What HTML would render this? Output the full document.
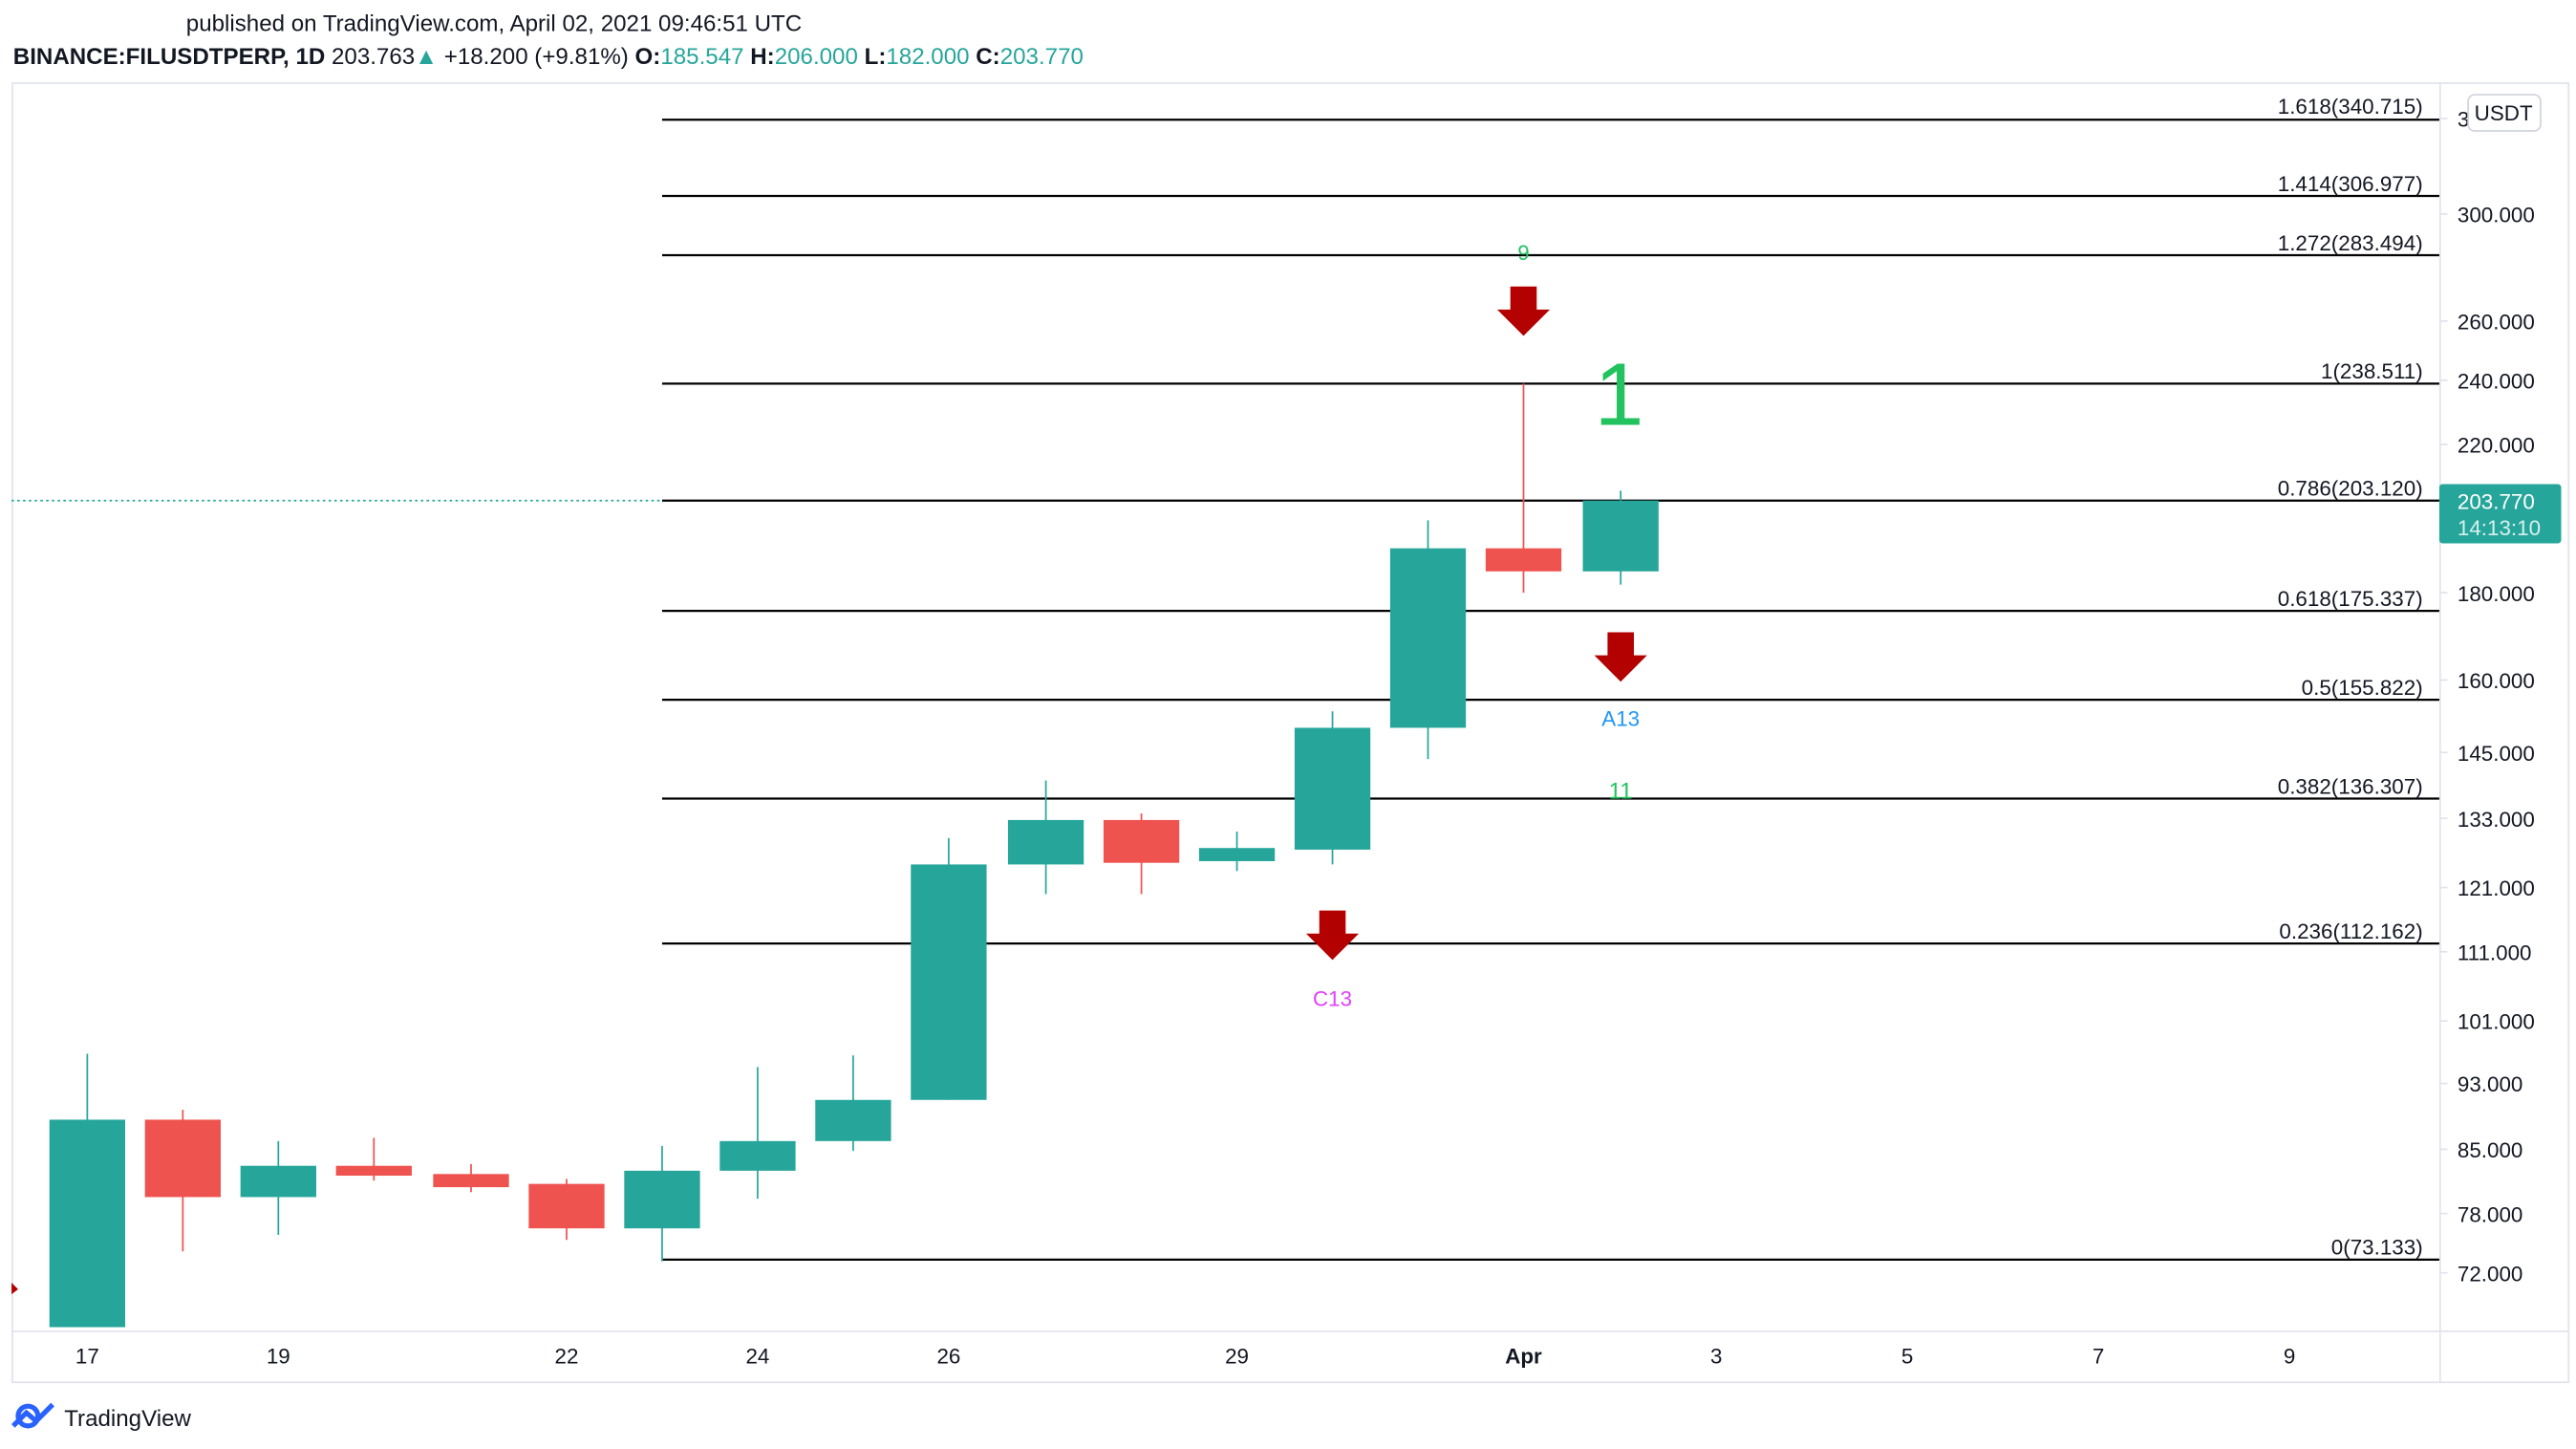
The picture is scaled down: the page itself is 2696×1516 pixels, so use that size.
<!DOCTYPE html>
<html><head><meta charset="utf-8"><style>
html,body{margin:0;padding:0;background:#fff;}
svg{display:block;}
text{font-family:"Liberation Sans","DejaVu Sans",sans-serif;}
</style></head><body>
<svg width="2696" height="1516" viewBox="0 0 1564 880" preserveAspectRatio="none" xmlns="http://www.w3.org/2000/svg">
<rect width="1564" height="880" fill="#fff"/>
<text x="113" y="19" font-size="14" fill="#131722">published on TradingView.com, April 02, 2021 09:46:51 UTC</text>
<text x="8" y="39" font-size="14" fill="#131722"><tspan font-weight="bold">BINANCE:FILUSDTPERP, 1D</tspan> 203.763<tspan fill="#26a69a">▲</tspan> +18.200 (+9.81%) <tspan font-weight="bold">O:</tspan><tspan fill="#26a69a">185.547</tspan> <tspan font-weight="bold">H:</tspan><tspan fill="#26a69a">206.000</tspan> <tspan font-weight="bold">L:</tspan><tspan fill="#26a69a">182.000</tspan> <tspan font-weight="bold">C:</tspan><tspan fill="#26a69a">203.770</tspan></text>
<rect x="7.5" y="50.5" width="1552" height="789" fill="none" stroke="#e0e3eb"/>
<line x1="1481.5" y1="50" x2="1481.5" y2="840" stroke="#e0e3eb"/>
<line x1="7" y1="808.5" x2="1560" y2="808.5" stroke="#e0e3eb"/>
<g stroke="#e0e3eb">
<line x1="1481" y1="72" x2="1486" y2="72"/><line x1="1481" y1="130" x2="1486" y2="130"/><line x1="1481" y1="195" x2="1486" y2="195"/><line x1="1481" y1="231" x2="1486" y2="231"/><line x1="1481" y1="270" x2="1486" y2="270"/><line x1="1481" y1="360" x2="1486" y2="360"/><line x1="1481" y1="413" x2="1486" y2="413"/><line x1="1481" y1="457" x2="1486" y2="457"/><line x1="1481" y1="497" x2="1486" y2="497"/><line x1="1481" y1="539" x2="1486" y2="539"/><line x1="1481" y1="578" x2="1486" y2="578"/><line x1="1481" y1="620" x2="1486" y2="620"/><line x1="1481" y1="658" x2="1486" y2="658"/><line x1="1481" y1="698" x2="1486" y2="698"/><line x1="1481" y1="737" x2="1486" y2="737"/><line x1="1481" y1="773" x2="1486" y2="773"/>
</g>
<g font-size="13" fill="#131722">
<text x="1492" y="77">3</text>
<text x="1492" y="135">300.000</text><text x="1492" y="200">260.000</text><text x="1492" y="236">240.000</text><text x="1492" y="275">220.000</text><text x="1492" y="365">180.000</text><text x="1492" y="418">160.000</text><text x="1492" y="462">145.000</text><text x="1492" y="502">133.000</text><text x="1492" y="544">121.000</text><text x="1492" y="583">111.000</text><text x="1492" y="625">101.000</text><text x="1492" y="663">93.000</text><text x="1492" y="703">85.000</text><text x="1492" y="742">78.000</text><text x="1492" y="778">72.000</text>
</g>
<rect x="1498.5" y="57.5" width="44" height="22" rx="4" fill="#fff" stroke="#d1d4dc"/>
<text x="1520" y="73" font-size="13" fill="#131722" text-anchor="middle">USDT</text>
<g font-size="13" fill="#131722" text-anchor="middle">
<text x="53" y="828">17</text><text x="169" y="828">19</text><text x="344" y="828">22</text><text x="460" y="828">24</text><text x="576" y="828">26</text><text x="751" y="828">29</text><text x="925" y="828" font-weight="bold">Apr</text><text x="1042" y="828">3</text><text x="1158" y="828">5</text><text x="1274" y="828">7</text><text x="1390" y="828">9</text>
</g>
<line x1="7" y1="304" x2="402" y2="304" stroke="#26a69a" stroke-dasharray="1.5,2"/>
<g stroke="#000" stroke-width="1.3">
<line x1="402" y1="72.7" x2="1481" y2="72.7"/><line x1="402" y1="119" x2="1481" y2="119"/><line x1="402" y1="155" x2="1481" y2="155"/><line x1="402" y1="233" x2="1481" y2="233"/><line x1="402" y1="304" x2="1481" y2="304"/><line x1="402" y1="371" x2="1481" y2="371"/><line x1="402" y1="425" x2="1481" y2="425"/><line x1="402" y1="485" x2="1481" y2="485"/><line x1="402" y1="573" x2="1481" y2="573"/><line x1="402" y1="765" x2="1481" y2="765"/>
</g>
<g font-size="13" fill="#131722" text-anchor="end" style="font-family:'DejaVu Sans','Liberation Sans',sans-serif">
<text x="1471" y="69">1.618(340.715)</text><text x="1471" y="116">1.414(306.977)</text><text x="1471" y="152">1.272(283.494)</text><text x="1471" y="230">1(238.511)</text><text x="1471" y="301">0.786(203.120)</text><text x="1471" y="368">0.618(175.337)</text><text x="1471" y="422">0.5(155.822)</text><text x="1471" y="482">0.382(136.307)</text><text x="1471" y="570">0.236(112.162)</text><text x="1471" y="762">0(73.133)</text>
</g>
<g>
<line x1="53" y1="640" x2="53" y2="806" stroke="#26a69a"/><rect x="30" y="680" width="46" height="126" fill="#26a69a"/>
<line x1="111" y1="674" x2="111" y2="760" stroke="#ef5350"/><rect x="88" y="680" width="46" height="47" fill="#ef5350"/>
<line x1="169" y1="693" x2="169" y2="750" stroke="#26a69a"/><rect x="146" y="708" width="46" height="19" fill="#26a69a"/>
<line x1="227" y1="691" x2="227" y2="717" stroke="#ef5350"/><rect x="204" y="708" width="46" height="6" fill="#ef5350"/>
<line x1="286" y1="707" x2="286" y2="724" stroke="#ef5350"/><rect x="263" y="713" width="46" height="8" fill="#ef5350"/>
<line x1="344" y1="716" x2="344" y2="753" stroke="#ef5350"/><rect x="321" y="719" width="46" height="27" fill="#ef5350"/>
<line x1="402" y1="696" x2="402" y2="766" stroke="#26a69a"/><rect x="379" y="711" width="46" height="35" fill="#26a69a"/>
<line x1="460" y1="648" x2="460" y2="728" stroke="#26a69a"/><rect x="437" y="693" width="46" height="18" fill="#26a69a"/>
<line x1="518" y1="641" x2="518" y2="699" stroke="#26a69a"/><rect x="495" y="668" width="46" height="25" fill="#26a69a"/>
<line x1="576" y1="509" x2="576" y2="668" stroke="#26a69a"/><rect x="553" y="525" width="46" height="143" fill="#26a69a"/>
<line x1="635" y1="474" x2="635" y2="543" stroke="#26a69a"/><rect x="612" y="498" width="46" height="27" fill="#26a69a"/>
<line x1="693" y1="494" x2="693" y2="543" stroke="#ef5350"/><rect x="670" y="498" width="46" height="26" fill="#ef5350"/>
<line x1="751" y1="505" x2="751" y2="529" stroke="#26a69a"/><rect x="728" y="515" width="46" height="8" fill="#26a69a"/>
<line x1="809" y1="432" x2="809" y2="525" stroke="#26a69a"/><rect x="786" y="442" width="46" height="74" fill="#26a69a"/>
<line x1="867" y1="316" x2="867" y2="461" stroke="#26a69a"/><rect x="844" y="333" width="46" height="109" fill="#26a69a"/>
<line x1="925" y1="233" x2="925" y2="360" stroke="#ef5350"/><rect x="902" y="333" width="46" height="14" fill="#ef5350"/>
<line x1="984" y1="298" x2="984" y2="355" stroke="#26a69a"/><rect x="961" y="304" width="46" height="43" fill="#26a69a"/>
</g>
<polygon points="7,779 11,783 7,786" fill="#b30000"/>
<g fill="#b30000">
<polygon points="917,174 933,174 933,188 941,188 925,204 909,188 917,188"/>
<polygon points="976,384 992,384 992,398 1000,398 984,414 968,398 976,398"/>
<polygon points="801,553 817,553 817,567 825,567 809,583 793,567 801,567"/>
</g>
<text x="925" y="158" font-size="13" fill="#22c35e" text-anchor="middle">9</text>
<text x="983" y="258" font-size="54" fill="#22c35e" text-anchor="middle">1</text>
<text x="984" y="441" font-size="13" fill="#2196f3" text-anchor="middle">A13</text>
<text x="984" y="485" font-size="14" fill="#22c35e" text-anchor="middle">11</text>
<text x="809" y="611" font-size="13" fill="#e040fb" text-anchor="middle">C13</text>
<rect x="1481" y="294" width="74" height="36" rx="2" fill="#26a69a"/>
<text x="1492" y="309" font-size="13" fill="#fff">203.770</text>
<text x="1492" y="325" font-size="13" fill="#d8f0ee">14:13:10</text>
<g>
<circle cx="17" cy="860" r="6" fill="none" stroke="#2962ff" stroke-width="3"/>
<path d="M8 866 L16 858 L22 863 L32 853" fill="none" stroke="#2962ff" stroke-width="3"/>
</g>
<text x="39" y="866" font-size="14" fill="#131722">TradingView</text>
</svg>
</body></html>
